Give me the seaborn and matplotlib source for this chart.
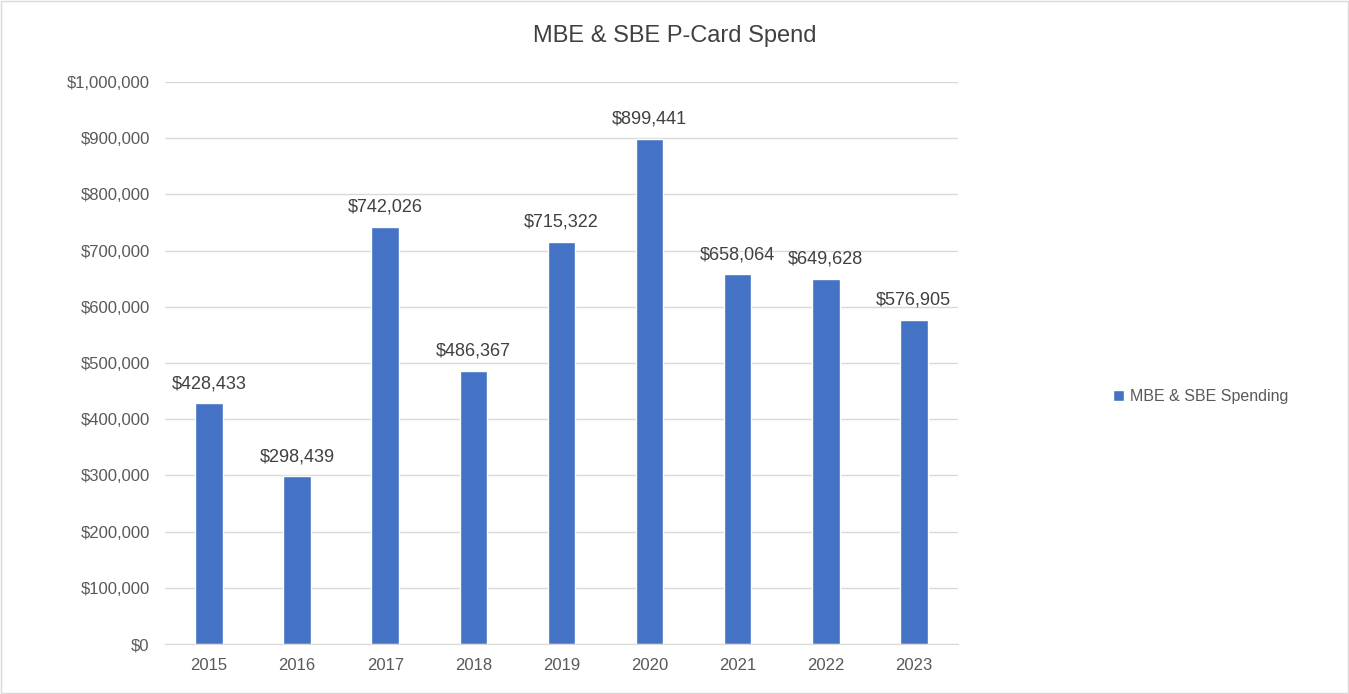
import matplotlib
matplotlib.use("Agg")
import matplotlib.pyplot as plt
import seaborn as sns
import pandas as pd
from matplotlib.patches import Rectangle
from matplotlib.ticker import FuncFormatter

# 数据
years = ["2015", "2016", "2017", "2018", "2019", "2020", "2021", "2022", "2023"]
spend = [428433, 298439, 742026, 486367, 715322, 899441, 658064, 649628, 576905]
series_name = "MBE & SBE Spending"
title = "MBE & SBE P-Card Spend"

bar_color = "#4472C4"
text_color = "#595959"
grid_color = "#D9D9D9"

sns.set_style("white")
plt.rcParams['font.family'] = ['Liberation Sans', 'DejaVu Sans']

df = pd.DataFrame({'year': years, 'spend': spend})

fig = plt.figure(figsize=(13.49, 6.94), dpi=100)
ax = fig.add_axes([0.1223, 0.072, 0.5878, 0.8098])

sns.barplot(data=df, x='year', y='spend', color=bar_color, width=0.313,
            saturation=1, label=series_name, ax=ax)

ax.set_ylim(0, 1000000)
ax.set_yticks(range(0, 1000001, 100000))
ax.yaxis.set_major_formatter(FuncFormatter(lambda v, p: f"${v:,.0f}"))
ax.set_xlim(-0.5, len(years) - 0.5)
ax.set_xlabel("")
ax.set_ylabel("")
ax.grid(axis='y', color=grid_color, linewidth=1)
ax.set_axisbelow(True)
for s in ['top', 'right', 'left']:
    ax.spines[s].set_visible(False)
ax.spines['bottom'].set_color(grid_color)
ax.tick_params(axis='both', length=0, labelsize=12, colors=text_color)
ax.tick_params(axis='y', pad=11)
ax.tick_params(axis='x', pad=10)

# 数值标签
ax.bar_label(ax.containers[0], labels=[f"${v:,}" for v in spend],
             padding=8, fontsize=13, color="#404040")

fig.text(0.5, 1 - 36 / 694, title, fontsize=17, color="#404040",
         ha='center', va='center')

ax.legend(loc='center left', bbox_to_anchor=(1.177, 0.441), frameon=False,
          fontsize=11.5, labelcolor=text_color, handlelength=0.7,
          handleheight=0.7, handletextpad=0.4)

# 外框
fig.patches.append(Rectangle((0.001, 0.001), 0.998, 0.997, transform=fig.transFigure,
                             fill=False, edgecolor=grid_color, linewidth=1))

fig.savefig("out.png", dpi=100)
